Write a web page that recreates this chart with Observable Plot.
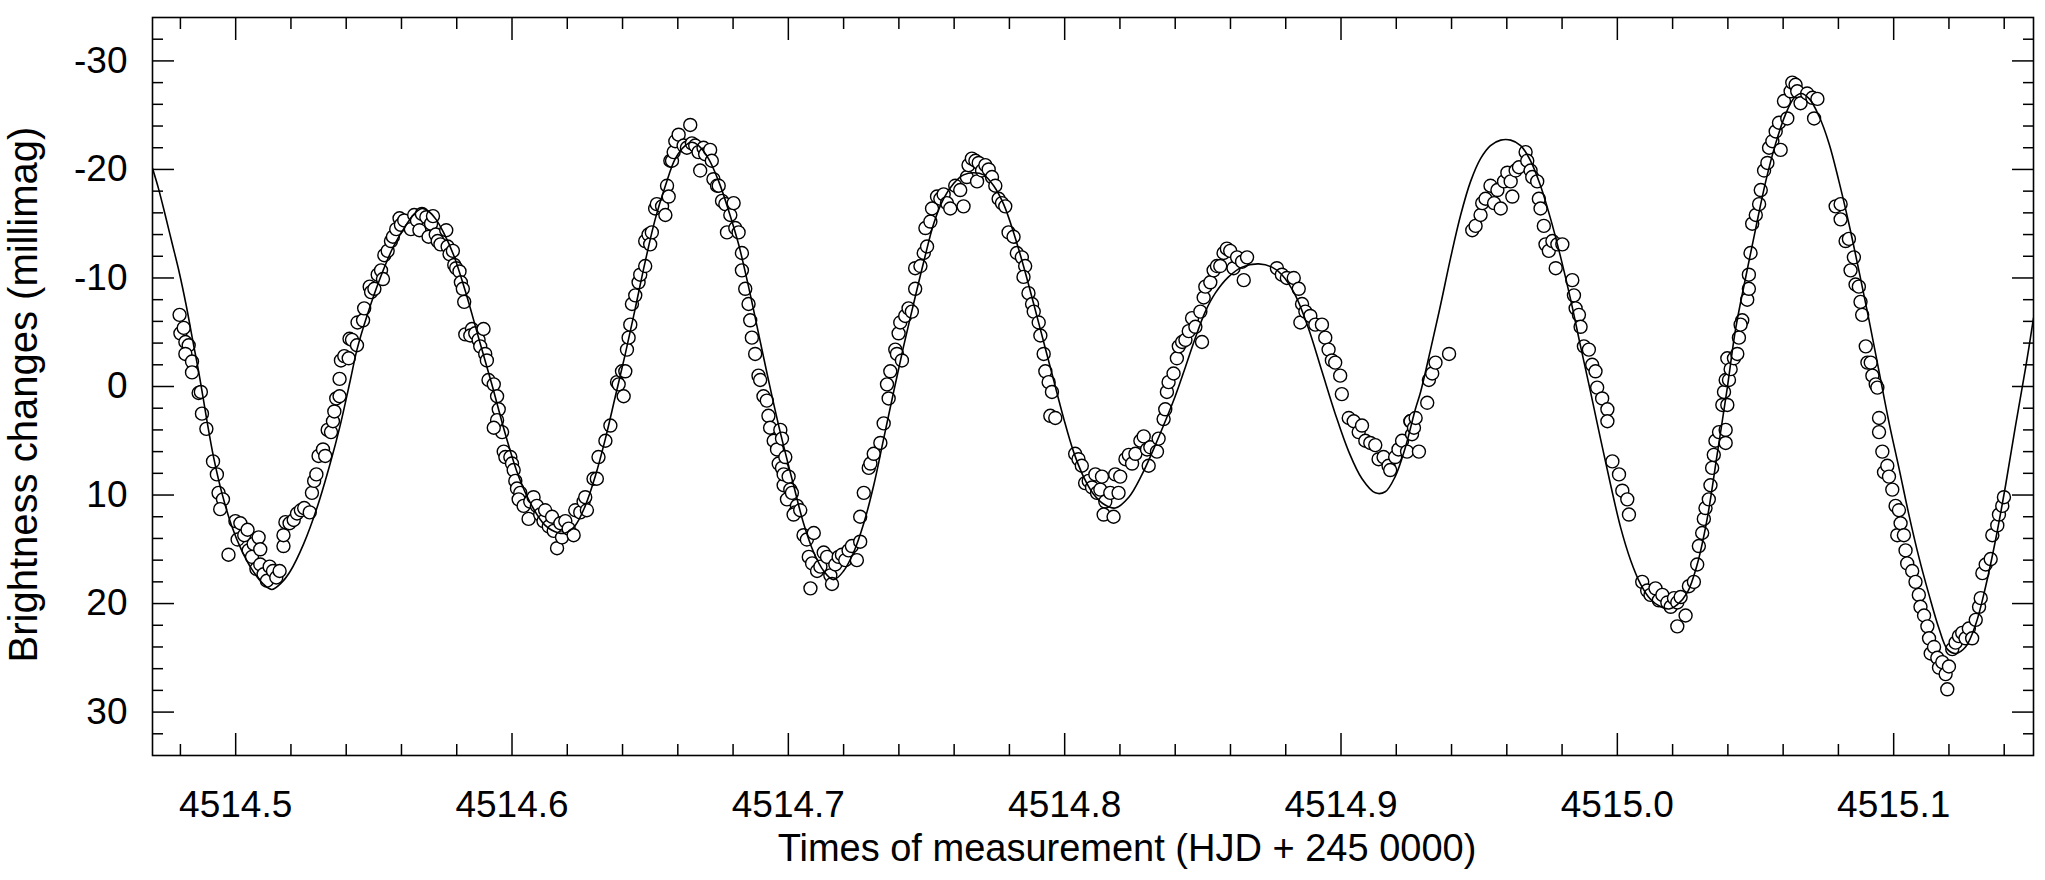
<!DOCTYPE html>
<html><head><meta charset="utf-8">
<script src="https://cdn.jsdelivr.net/npm/d3@7"></script>
<script src="https://cdn.jsdelivr.net/npm/@observablehq/plot@0.6"></script>
<style>
html,body{margin:0;padding:0;background:#fff;}
#chart{width:2045px;height:880px;}
</style></head><body><div id="chart"></div>
<script>
// Axis definitions
const xDomain = [4514.4699, 4515.1506];
const yDomain = [-34, 34];
const xMajor = [4514.5, 4514.6, 4514.7, 4514.8, 4514.9, 4515.0, 4515.1];
const xMinor = [4514.48, 4514.52, 4514.54, 4514.56, 4514.58, 4514.62, 4514.64, 4514.66, 4514.68, 4514.72, 4514.74, 4514.76, 4514.78, 4514.82, 4514.84, 4514.86, 4514.88, 4514.92, 4514.94, 4514.96, 4514.98, 4515.02, 4515.04, 4515.06, 4515.08, 4515.12, 4515.14];
const yMajor = [-30, -20, -10, 0, 10, 20, 30];
const yMinor = [-32, -28, -26, -24, -22, -18, -16, -14, -12, -8, -6, -4, -2, 2, 4, 6, 8, 12, 14, 16, 18, 22, 24, 26, 28, 32];
const xTitle = "Times of measurement (HJD + 245 0000)";
const yTitle = "Brightness changes (millimag)";

// Measurements [time, millimag]
const obsSegment1 = [[4514.4797,-6.6],[4514.4800,-4.9],[4514.4812,-5.4],[4514.4818,-4.1],[4514.4830,-3.8],[4514.4818,-3.0],[4514.4842,-2.3],[4514.4842,-1.3],[4514.4866,0.6],[4514.4874,0.5],[4514.4878,2.5],[4514.4894,3.9],[4514.4918,6.9],[4514.4932,8.1],[4514.4938,9.8],[4514.4954,10.4],[4514.4944,11.3],[4514.4974,15.5],[4514.4999,12.4],[4514.5007,14.1],[4514.5017,12.6],[4514.5031,13.7],[4514.5043,13.2],[4514.5047,15.1],[4514.5059,15.7],[4514.5065,14.5],[4514.5075,16.8],[4514.5083,13.9],[4514.5089,15.0],[4514.5089,16.4],[4514.5101,17.3],[4514.5113,17.9],[4514.5123,16.6],[4514.5135,17.0],[4514.5147,17.6],[4514.5159,17.0],[4514.5173,14.7],[4514.5173,13.7],[4514.5180,12.5],[4514.5195,12.6],[4514.5210,12.3],[4514.5222,11.7],[4514.5236,11.4],[4514.5248,11.2],[4514.5268,11.6],[4514.5276,9.8],[4514.5284,8.7],[4514.5292,8.1],[4514.5300,6.4],[4514.5316,5.8],[4514.5324,6.4],[4514.5333,4.0],[4514.5345,4.2],[4514.5352,3.2],[4514.5357,2.3],[4514.5364,1.1],[4514.5376,0.9],[4514.5376,-0.7],[4514.5381,-2.4],[4514.5393,-2.8],[4514.5409,-2.6],[4514.5412,-4.4],[4514.5421,-4.3],[4514.5439,-3.8],[4514.5441,-5.9],[4514.5461,-6.1],[4514.5465,-7.2],[4514.5485,-9.2],[4514.5490,-8.7],[4514.5502,-9.0],[4514.5514,-10.3],[4514.5526,-10.7],[4514.5533,-9.9],[4514.5538,-12.1],[4514.5550,-12.5],[4514.5562,-13.4],[4514.5569,-13.8],[4514.5581,-14.5],[4514.5593,-15.5],[4514.5598,-14.9],[4514.5610,-15.3],[4514.5634,-14.5],[4514.5646,-15.8],[4514.5656,-15.3],[4514.5665,-14.4],[4514.5674,-15.9],[4514.5690,-15.6],[4514.5698,-13.8],[4514.5707,-15.0],[4514.5714,-15.7],[4514.5724,-14.0],[4514.5731,-13.4],[4514.5741,-13.1],[4514.5762,-14.4],[4514.5767,-12.9],[4514.5774,-12.2],[4514.5786,-12.5],[4514.5791,-11.2],[4514.5798,-10.9],[4514.5810,-10.6],[4514.5815,-9.6],[4514.5822,-9.0],[4514.5827,-7.8],[4514.5831,-4.8]];
const obsSegment2 = [[4514.5855,-5.3],[4514.5849,-4.7],[4514.5867,-4.9],[4514.5879,-4.3],[4514.5897,-5.3],[4514.5885,-3.7],[4514.5903,-3.0],[4514.5909,-2.4],[4514.5915,-0.6],[4514.5934,-0.2],[4514.5946,0.9],[4514.5952,2.1],[4514.5946,3.1],[4514.5964,4.2],[4514.5934,3.8],[4514.5970,6.0],[4514.5976,6.5],[4514.5994,6.5],[4514.6000,7.1],[4514.6006,7.7],[4514.6012,8.7],[4514.6018,9.4],[4514.6030,9.8],[4514.6024,10.4],[4514.6042,11.0],[4514.6060,12.2],[4514.6066,10.6],[4514.6078,10.2],[4514.6090,11.0],[4514.6102,11.8],[4514.6114,12.4],[4514.6120,11.4],[4514.6133,12.9],[4514.6145,12.0],[4514.6151,13.3],[4514.6163,14.9],[4514.6175,12.6],[4514.6181,13.9],[4514.6193,12.4],[4514.6205,13.1],[4514.6223,13.7],[4514.6229,11.4],[4514.6247,11.6],[4514.6259,10.6],[4514.6265,10.2],[4514.6271,11.4],[4514.6295,8.5],[4514.6307,8.5],[4514.6313,6.5],[4514.6338,5.0],[4514.6356,3.6],[4514.6380,-0.4],[4514.6386,-0.2],[4514.6398,-1.4],[4514.6404,0.9],[4514.6410,-1.4],[4514.6416,-3.4],[4514.6422,-4.5],[4514.6428,-5.7],[4514.6434,-7.6],[4514.6446,-8.4],[4514.6458,-9.6],[4514.6464,-10.3],[4514.6482,-11.1],[4514.6482,-13.4],[4514.6494,-14.0],[4514.6500,-13.1],[4514.6506,-14.2],[4514.6518,-16.4],[4514.6524,-16.8],[4514.6543,-16.6],[4514.6555,-15.8],[4514.6561,-18.5],[4514.6567,-17.5],[4514.6573,-20.8],[4514.6579,-20.8],[4514.6585,-21.6],[4514.6591,-22.6],[4514.6603,-23.2],[4514.6621,-22.2],[4514.6633,-22.0],[4514.6645,-24.1],[4514.6651,-22.4],[4514.6663,-22.2],[4514.6681,-19.9],[4514.6675,-21.6],[4514.6693,-22.0],[4514.6699,-21.4],[4514.6717,-21.8],[4514.6723,-20.8],[4514.6729,-19.1],[4514.6742,-18.5],[4514.6748,-18.5],[4514.6760,-17.1],[4514.6772,-16.8],[4514.6778,-14.2],[4514.6790,-15.8],[4514.6802,-16.9],[4514.6808,-14.6],[4514.6820,-14.2],[4514.6832,-12.3],[4514.6832,-10.7],[4514.6844,-9.0],[4514.6856,-7.6],[4514.6862,-6.1],[4514.6868,-4.5],[4514.6880,-3.0],[4514.6892,-1.0],[4514.6898,-0.6],[4514.6910,0.9],[4514.6922,1.3],[4514.6928,2.7],[4514.6934,3.8],[4514.6947,5.0],[4514.6959,5.8],[4514.6965,7.1],[4514.6977,7.5],[4514.6983,9.1]];
const obsSegment3 = [[4514.6971,4.0],[4514.6977,4.8],[4514.6989,6.5],[4514.6983,8.1],[4514.7001,8.3],[4514.7007,9.5],[4514.6995,10.4],[4514.7013,9.8],[4514.7031,11.0],[4514.7025,11.6],[4514.7019,11.8],[4514.7043,11.4],[4514.7055,13.7],[4514.7067,14.1],[4514.7092,13.5],[4514.7074,15.7],[4514.7086,16.3],[4514.7104,17.0],[4514.7080,18.6],[4514.7116,16.6],[4514.7128,15.3],[4514.7140,15.7],[4514.7152,17.4],[4514.7158,18.2],[4514.7170,16.4],[4514.7182,15.7],[4514.7194,15.5],[4514.7206,16.0],[4514.7218,15.1],[4514.7230,14.7],[4514.7248,16.0],[4514.7260,14.3],[4514.7260,12.0],[4514.7273,9.8],[4514.7291,7.5],[4514.7297,7.1],[4514.7309,6.2],[4514.7333,5.2],[4514.7345,3.4],[4514.7363,1.1],[4514.7357,-0.2],[4514.7369,-1.4],[4514.7387,-3.4],[4514.7393,-3.0],[4514.7411,-2.4],[4514.7399,-4.9],[4514.7405,-5.9],[4514.7423,-6.5],[4514.7435,-7.2],[4514.7447,-6.9],[4514.7459,-9.0],[4514.7459,-10.9],[4514.7478,-11.1],[4514.7490,-12.3],[4514.7502,-12.9],[4514.7496,-14.6],[4514.7514,-15.2],[4514.7520,-16.4],[4514.7538,-17.5],[4514.7550,-17.3],[4514.7562,-17.7],[4514.7574,-16.9],[4514.7586,-16.4],[4514.7604,-18.5],[4514.7622,-18.1],[4514.7634,-16.6],[4514.7646,-19.3],[4514.7652,-20.4],[4514.7664,-21.0],[4514.7677,-20.8],[4514.7689,-20.6],[4514.7683,-18.9],[4514.7701,-19.9],[4514.7713,-20.4],[4514.7725,-20.0],[4514.7737,-19.3],[4514.7749,-18.5],[4514.7761,-17.3],[4514.7773,-16.9],[4514.7785,-16.6],[4514.7797,-14.2],[4514.7815,-13.8],[4514.7827,-12.3],[4514.7845,-11.9],[4514.7857,-11.1],[4514.7851,-10.1],[4514.7869,-8.6],[4514.7882,-7.6],[4514.7888,-6.9],[4514.7906,-5.9],[4514.7912,-4.7],[4514.7924,-3.0],[4514.7930,-1.4],[4514.7942,-0.4],[4514.7954,0.5],[4514.7948,2.7],[4514.7966,2.9],[4514.8038,6.2],[4514.8050,6.7],[4514.8062,7.3],[4514.8074,8.9],[4514.8087,8.7],[4514.8099,9.3],[4514.8117,9.8],[4514.8111,8.1]];
const obsSegment4 = [[4514.8129,9.5],[4514.8135,8.3],[4514.8147,10.6],[4514.8141,11.8],[4514.8165,9.8],[4514.8177,12.0],[4514.8183,8.1],[4514.8201,8.3],[4514.8195,9.8],[4514.8220,6.7],[4514.8232,6.3],[4514.8244,7.1],[4514.8256,6.2],[4514.8274,5.0],[4514.8286,4.6],[4514.8298,5.8],[4514.8304,7.3],[4514.8310,5.6],[4514.8334,6.0],[4514.8340,4.8],[4514.8358,3.0],[4514.8364,2.1],[4514.8370,0.5],[4514.8376,-0.4],[4514.8394,-1.2],[4514.8406,-2.6],[4514.8413,-3.7],[4514.8425,-4.1],[4514.8437,-4.3],[4514.8449,-5.1],[4514.8461,-6.3],[4514.8473,-5.5],[4514.8497,-4.1],[4514.8491,-6.9],[4514.8503,-8.2],[4514.8509,-9.2],[4514.8527,-9.6],[4514.8539,-10.7],[4514.8551,-11.1],[4514.8563,-11.1],[4514.8575,-12.3],[4514.8587,-12.7],[4514.8599,-12.5],[4514.8611,-10.9],[4514.8624,-11.9],[4514.8642,-11.5],[4514.8648,-9.8],[4514.8660,-11.9],[4514.8768,-10.9],[4514.8786,-10.3],[4514.8804,-10.0],[4514.8829,-10.0],[4514.8847,-9.0],[4514.8859,-7.6],[4514.8853,-5.9],[4514.8871,-6.9],[4514.8889,-6.5],[4514.8907,-5.7],[4514.8931,-5.7],[4514.8943,-4.5],[4514.8955,-3.4],[4514.8967,-2.4],[4514.8979,-2.2],[4514.8997,-1.0],[4514.9003,0.7],[4514.9028,2.9],[4514.9046,3.2],[4514.9064,4.2],[4514.9076,3.6],[4514.9088,5.0],[4514.9106,5.2],[4514.9124,5.4],[4514.9136,6.7],[4514.9154,6.5],[4514.9172,7.3],[4514.9178,7.7],[4514.9196,6.5],[4514.9208,5.8],[4514.9221,5.0],[4514.9239,6.0],[4514.9251,3.2],[4514.9257,4.4]];
const obsSegment5 = [[4514.9252,3.2],[4514.9264,3.8],[4514.9282,6.0],[4514.9270,2.9],[4514.9312,1.5],[4514.9318,-0.6],[4514.9330,-1.2],[4514.9342,-2.2],[4514.9391,-3.0],[4514.9475,-14.4],[4514.9487,-14.8],[4514.9505,-15.8],[4514.9511,-16.9],[4514.9523,-17.3],[4514.9541,-18.5],[4514.9554,-16.9],[4514.9566,-18.1],[4514.9578,-16.4],[4514.9590,-18.9],[4514.9602,-19.7],[4514.9620,-17.5],[4514.9614,-18.9],[4514.9632,-19.9],[4514.9644,-20.2],[4514.9668,-21.6],[4514.9674,-20.8],[4514.9686,-19.9],[4514.9692,-19.3],[4514.9710,-18.9],[4514.9716,-17.3],[4514.9722,-16.4],[4514.9734,-14.8],[4514.9740,-13.1],[4514.9752,-12.5],[4514.9765,-13.4],[4514.9783,-13.1],[4514.9801,-13.1],[4514.9777,-10.9],[4514.9837,-9.8],[4514.9843,-8.4],[4514.9849,-7.2],[4514.9861,-6.6],[4514.9867,-5.5],[4514.9879,-3.7],[4514.9897,-3.4],[4514.9909,-2.0],[4514.9921,-1.4],[4514.9927,0.1],[4514.9945,1.1],[4514.9964,2.1],[4514.9964,3.2],[4514.9982,6.9],[4515.0006,8.1],[4515.0018,9.6],[4515.0036,10.4],[4515.0042,11.8],[4515.0090,18.0],[4515.0108,18.8],[4515.0120,19.2],[4515.0138,18.6],[4515.0150,19.7],[4515.0163,19.2],[4515.0181,19.9],[4515.0193,20.3],[4515.0205,19.5],[4515.0217,19.9],[4515.0229,19.4],[4515.0247,21.1],[4515.0217,22.1],[4515.0259,18.4],[4515.0277,18.0],[4515.0289,16.4],[4515.0295,14.7],[4515.0307,13.5],[4515.0313,12.2],[4515.0319,11.2],[4515.0331,10.4],[4515.0337,9.1],[4515.0343,7.5],[4515.0349,6.3],[4515.0355,5.0],[4515.0368,4.2],[4515.0380,1.7],[4515.0386,0.5],[4515.0392,-0.6],[4515.0398,-2.6]];
const obsSegment6 = [[4515.0392,4.0],[4515.0392,5.2],[4515.0398,1.7],[4515.0404,-0.6],[4515.0410,-1.6],[4515.0422,-2.6],[4515.0434,-3.0],[4515.0440,-4.5],[4515.0452,-6.1],[4515.0446,-5.7],[4515.0470,-8.0],[4515.0476,-9.0],[4515.0476,-10.3],[4515.0482,-12.3],[4515.0488,-15.0],[4515.0501,-15.8],[4515.0513,-16.8],[4515.0519,-18.1],[4515.0531,-19.9],[4515.0543,-20.6],[4515.0549,-22.0],[4515.0561,-22.6],[4515.0573,-23.5],[4515.0585,-24.3],[4515.0591,-21.8],[4515.0603,-26.3],[4515.0615,-24.7],[4515.0627,-27.2],[4515.0633,-28.0],[4515.0645,-27.8],[4515.0651,-27.2],[4515.0663,-26.1],[4515.0687,-27.0],[4515.0706,-26.6],[4515.0712,-24.7],[4515.0724,-26.5],[4515.0790,-16.6],[4515.0808,-16.8],[4515.0808,-15.4],[4515.0826,-13.4],[4515.0838,-13.6],[4515.0844,-10.7],[4515.0856,-11.9],[4515.0862,-9.4],[4515.0874,-9.2],[4515.0880,-7.8],[4515.0886,-6.6],[4515.0899,-3.7],[4515.0905,-2.2],[4515.0917,-2.2],[4515.0923,-1.0],[4515.0935,-0.2],[4515.0941,0.1],[4515.0947,2.9],[4515.0947,4.2],[4515.0959,6.0],[4515.0965,7.9],[4515.0977,7.3],[4515.0983,8.3],[4515.0995,9.5],[4515.1007,11.0],[4515.1019,11.4],[4515.1013,13.7],[4515.1025,12.6],[4515.1037,13.7],[4515.1043,15.1],[4515.1049,16.3],[4515.1067,17.0],[4515.1079,18.0],[4515.1091,19.2],[4515.1097,20.3],[4515.1110,21.1],[4515.1122,22.1],[4515.1128,23.2],[4515.1134,24.6],[4515.1146,24.0],[4515.1158,25.0],[4515.1164,25.9],[4515.1176,25.4],[4515.1188,26.5],[4515.1194,27.9],[4515.1200,25.8],[4515.1212,24.2],[4515.1224,23.6],[4515.1236,23.0],[4515.1248,22.7],[4515.1260,23.2],[4515.1272,22.3],[4515.1284,23.2],[4515.1297,21.5],[4515.1309,20.3],[4515.1315,19.5],[4515.1321,17.2],[4515.1333,16.4],[4515.1351,15.9],[4515.1357,13.7],[4515.1375,12.8],[4515.1381,11.8],[4515.1393,11.0],[4515.1399,10.2]];

// Fitted light curve [time, millimag]
const fitCurve = [[4514.4699,-20.1],[4514.4720,-18.3],[4514.4745,-15.8],[4514.4770,-13.2],[4514.4795,-10.6],[4514.4820,-7.6],[4514.4845,-4.2],[4514.4870,-0.8],[4514.4895,3.0],[4514.4920,6.5],[4514.4950,9.8],[4514.4985,12.8],[4514.5020,15.0],[4514.5060,16.9],[4514.5100,18.2],[4514.5131,18.7],[4514.5165,18.1],[4514.5198,17.0],[4514.5246,14.5],[4514.5294,11.2],[4514.5342,7.1],[4514.5378,3.6],[4514.5415,-0.6],[4514.5439,-3.4],[4514.5475,-6.5],[4514.5523,-10.0],[4514.5571,-12.9],[4514.5620,-15.0],[4514.5650,-16.0],[4514.5675,-16.4],[4514.5700,-16.1],[4514.5725,-15.4],[4514.5752,-14.2],[4514.5789,-12.1],[4514.5831,-8.8],[4514.5879,-4.5],[4514.5927,-0.2],[4514.5976,4.4],[4514.6024,8.3],[4514.6072,11.0],[4514.6120,12.8],[4514.6169,13.5],[4514.6193,13.5],[4514.6229,12.8],[4514.6265,11.0],[4514.6301,8.3],[4514.6338,4.8],[4514.6374,0.9],[4514.6410,-3.0],[4514.6446,-7.2],[4514.6482,-11.5],[4514.6518,-15.4],[4514.6555,-18.5],[4514.6591,-21.0],[4514.6627,-22.2],[4514.6651,-22.5],[4514.6675,-22.2],[4514.6711,-21.0],[4514.6748,-18.9],[4514.6784,-16.2],[4514.6820,-13.1],[4514.6856,-9.2],[4514.6892,-4.9],[4514.6928,-0.6],[4514.6965,3.6],[4514.7019,9.1],[4514.7055,12.6],[4514.7092,15.3],[4514.7128,17.0],[4514.7164,17.8],[4514.7200,17.0],[4514.7236,15.3],[4514.7273,12.6],[4514.7309,9.1],[4514.7345,4.8],[4514.7381,0.5],[4514.7417,-3.7],[4514.7453,-7.6],[4514.7490,-11.5],[4514.7526,-15.0],[4514.7562,-17.3],[4514.7598,-18.7],[4514.7634,-19.5],[4514.7671,-19.7],[4514.7707,-19.5],[4514.7743,-18.5],[4514.7779,-16.8],[4514.7815,-14.2],[4514.7851,-11.1],[4514.7888,-7.6],[4514.7924,-4.1],[4514.7960,-0.6],[4514.7996,2.9],[4514.8032,6.0],[4514.8068,8.3],[4514.8104,9.9],[4514.8145,10.9],[4514.8183,11.2],[4514.8232,10.2],[4514.8280,8.1],[4514.8328,5.4],[4514.8364,3.2],[4514.8400,0.9],[4514.8437,-1.8],[4514.8473,-4.5],[4514.8509,-6.9],[4514.8545,-8.6],[4514.8593,-10.1],[4514.8642,-11.0],[4514.8702,-11.3],[4514.8750,-11.0],[4514.8786,-10.3],[4514.8835,-8.4],[4514.8883,-5.3],[4514.8931,-1.4],[4514.8979,2.5],[4514.9028,6.0],[4514.9076,8.5],[4514.9124,9.8],[4514.9160,9.7],[4514.9196,8.3],[4514.9233,5.6],[4514.9269,2.1],[4514.9288,0.5],[4514.9324,-3.4],[4514.9361,-7.6],[4514.9397,-11.9],[4514.9433,-15.8],[4514.9469,-18.9],[4514.9505,-21.0],[4514.9541,-22.2],[4514.9578,-22.7],[4514.9614,-22.7],[4514.9650,-22.2],[4514.9686,-20.8],[4514.9722,-18.5],[4514.9759,-15.4],[4514.9795,-11.9],[4514.9831,-8.0],[4514.9867,-3.7],[4514.9903,0.5],[4514.9939,4.8],[4514.9976,9.1],[4515.0012,13.0],[4515.0048,16.0],[4515.0084,18.2],[4515.0120,19.6],[4515.0157,20.3],[4515.0187,20.5],[4515.0217,20.1],[4515.0253,19.0],[4515.0289,16.4],[4515.0325,12.2],[4515.0361,6.3],[4515.0398,0.1],[4515.0428,-5.3],[4515.0464,-10.0],[4515.0501,-14.6],[4515.0537,-18.9],[4515.0573,-22.4],[4515.0609,-25.1],[4515.0640,-26.6],[4515.0665,-27.0],[4515.0695,-26.5],[4515.0730,-24.9],[4515.0766,-22.4],[4515.0802,-18.9],[4515.0838,-15.0],[4515.0874,-10.7],[4515.0911,-6.1],[4515.0947,-1.4],[4515.0983,3.3],[4515.1019,7.5],[4515.1055,11.8],[4515.1091,15.7],[4515.1128,19.2],[4515.1164,22.3],[4515.1194,24.2],[4515.1224,24.6],[4515.1260,24.0],[4515.1297,21.9],[4515.1333,18.4],[4515.1369,14.1],[4515.1405,9.1],[4515.1441,3.6],[4515.1478,-1.8],[4515.1506,-6.3]];

const obs = [...obsSegment1, ...obsSegment2, ...obsSegment3, ...obsSegment4, ...obsSegment5, ...obsSegment6].map(([t, m]) => ({t, m}));
const fit = fitCurve.map(([t, m]) => ({t, m}));

const font = "'Liberation Sans', Arial, Helvetica, sans-serif";
const tickStyle = {label: null, stroke: "#000", strokeWidth: 1.5, tickFormat: () => ""};

const chart = Plot.plot({
  width: 2045,
  height: 880,
  marginLeft: 152,
  marginRight: 12,
  marginTop: 17,
  marginBottom: 125,
  style: {fontFamily: font, fontSize: "37px", background: "#fff", color: "#000"},
  x: {domain: xDomain},
  y: {domain: yDomain, reverse: true},
  marks: [
    Plot.dot(obs, {x: "t", y: "m", r: 6.5, fill: "#fff", stroke: "#000", strokeWidth: 1.4}),
    Plot.line(fit, {x: "t", y: "m", curve: "catmull-rom", stroke: "#000", strokeWidth: 1.6, clip: true}),
    Plot.frame({stroke: "#000", strokeWidth: 1.6}),
    Plot.axisX(xMajor, {anchor: "bottom", tickSize: -22, ...tickStyle}),
    Plot.axisX(xMinor, {anchor: "bottom", tickSize: -11, ...tickStyle}),
    Plot.axisX(xMajor, {anchor: "top", tickSize: -22, ...tickStyle}),
    Plot.axisX(xMinor, {anchor: "top", tickSize: -11, ...tickStyle}),
    Plot.axisY(yMajor, {anchor: "left", tickSize: -22, ...tickStyle}),
    Plot.axisY(yMinor, {anchor: "left", tickSize: -11, ...tickStyle}),
    Plot.axisY(yMajor, {anchor: "right", tickSize: -22, ...tickStyle}),
    Plot.axisY(yMinor, {anchor: "right", tickSize: -11, ...tickStyle}),
    Plot.axisX(xMajor, {anchor: "bottom", tickSize: 0, tickPadding: 35, tickFormat: (d) => d.toFixed(1), label: null, fontSize: 37, fill: "#000"}),
    Plot.axisY(yMajor, {anchor: "left", tickSize: 0, tickPadding: 25, tickFormat: (d) => String(d), label: null, fontSize: 37, fill: "#000"}),
    Plot.text([xTitle], {text: (d) => d, frameAnchor: "bottom", textAnchor: "middle", dx: 34, dy: 93, fontSize: 38, lineAnchor: "middle", fill: "#000"}),
    Plot.text([yTitle], {text: (d) => d, frameAnchor: "left", textAnchor: "middle", rotate: -90, dx: -128, dy: 8, fontSize: 40, lineAnchor: "middle", fill: "#000"})
  ]
});
document.getElementById("chart").append(chart);
</script>
</body></html>
